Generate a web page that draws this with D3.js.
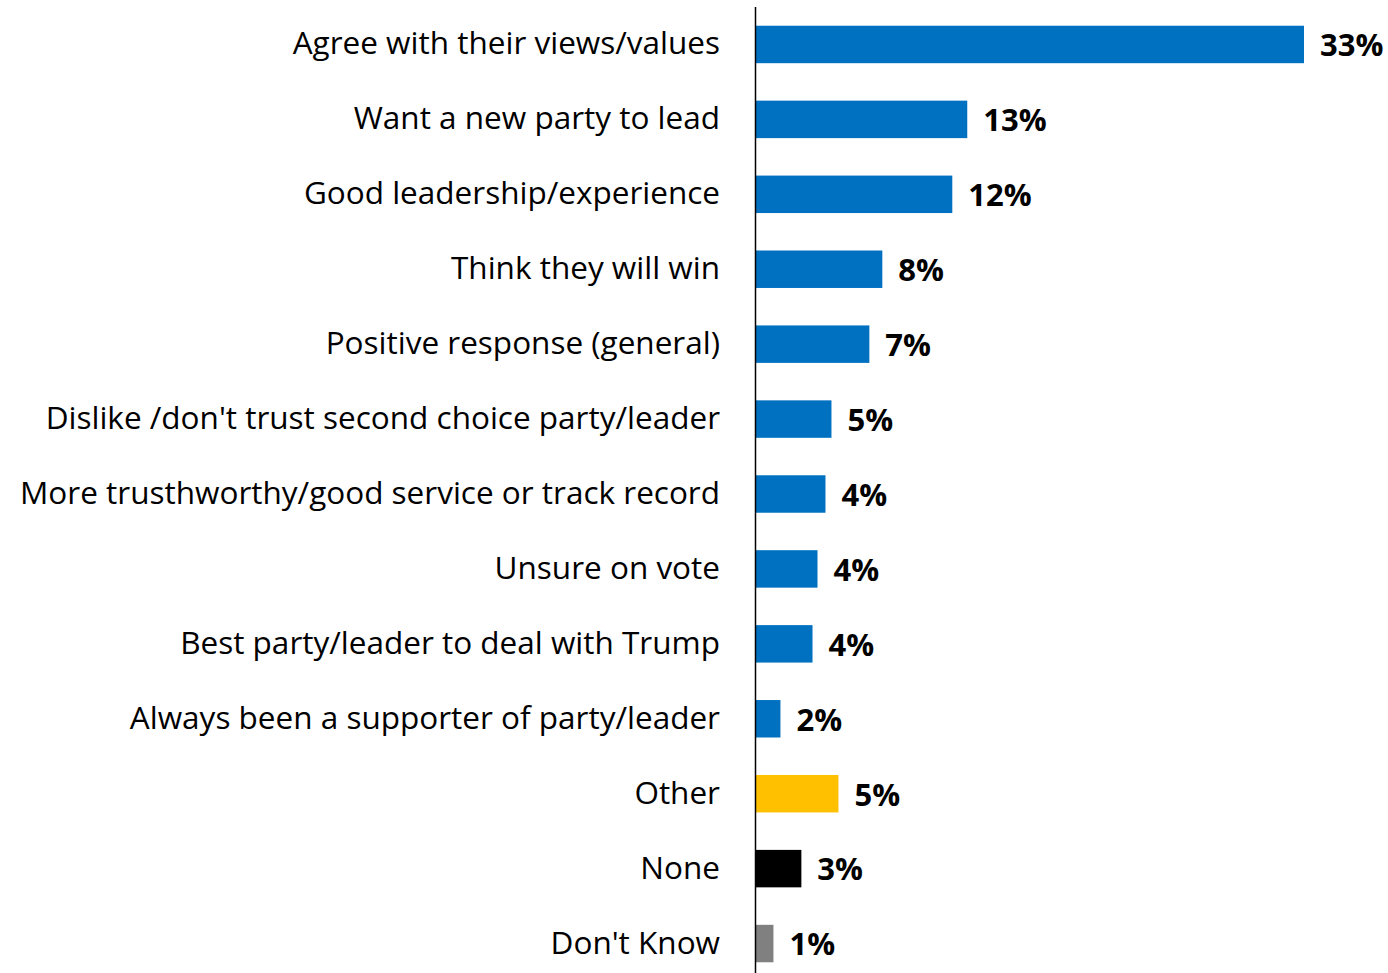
<!DOCTYPE html>
<html>
<head>
<meta charset="utf-8">
<script src="https://cdn.jsdelivr.net/npm/d3@7"></script>
<style>
  html, body { margin: 0; padding: 0; background: #fff; }
  svg text { font-family: "Open Sans", sans-serif; }
</style>
</head>
<body>
<svg id="chart" width="1388" height="973"></svg>
<script>
const categories = [
  "Agree with their views/values",
  "Want a new party to lead",
  "Good leadership/experience",
  "Think they will win",
  "Positive response (general)",
  "Dislike /don't trust second choice party/leader",
  "More trusthworthy/good service or track record",
  "Unsure on vote",
  "Best party/leader to deal with Trump",
  "Always been a supporter of party/leader",
  "Other",
  "None",
  "Don't Know"
];
const values = [33, 12.74, 11.84, 7.63, 6.85, 4.57, 4.21, 3.73, 3.43, 1.50, 4.99, 2.76, 1.08];
const valueLabels = ["33%", "13%", "12%", "8%", "7%", "5%", "4%", "4%", "4%", "2%", "5%", "3%", "1%"];
const barColors = ["#0070C0","#0070C0","#0070C0","#0070C0","#0070C0","#0070C0","#0070C0","#0070C0","#0070C0","#0070C0","#FFC000","#000000","#808080"];

const svg = d3.select("#chart");
const axisX = 755.5;
const x = d3.scaleLinear().domain([0, 33]).range([axisX, 1304]);
const y = d3.scaleBand().domain(categories).range([7, 981]).paddingInner(0.5).paddingOuter(0.25);

svg.selectAll("rect.bar").data(categories).join("rect")
  .attr("class", "bar")
  .attr("x", axisX)
  .attr("y", d => y(d))
  .attr("width", (d, i) => x(values[i]) - axisX)
  .attr("height", y.bandwidth())
  .attr("fill", (d, i) => barColors[i]);

svg.selectAll("text.cat").data(categories).join("text")
  .attr("class", "cat")
  .attr("x", 720)
  .attr("y", d => y(d) + y.bandwidth() / 2 - 1)
  .attr("dy", "0.35em")
  .attr("text-anchor", "end")
  .attr("font-size", 31.5)
  .attr("fill", "#000")
  .text(d => d);

svg.selectAll("text.val").data(categories).join("text")
  .attr("class", "val")
  .attr("x", (d, i) => x(values[i]) + 16)
  .attr("y", d => y(d) + y.bandwidth() / 2 + 1)
  .attr("dy", "0.35em")
  .attr("font-size", 31)
  .attr("font-weight", "bold")
  .attr("fill", "#000")
  .text((d, i) => valueLabels[i]);

svg.append("line")
  .attr("x1", axisX).attr("x2", axisX)
  .attr("y1", 7).attr("y2", 973)
  .attr("stroke", "#000").attr("stroke-width", 1.5);
</script>
</body>
</html>
